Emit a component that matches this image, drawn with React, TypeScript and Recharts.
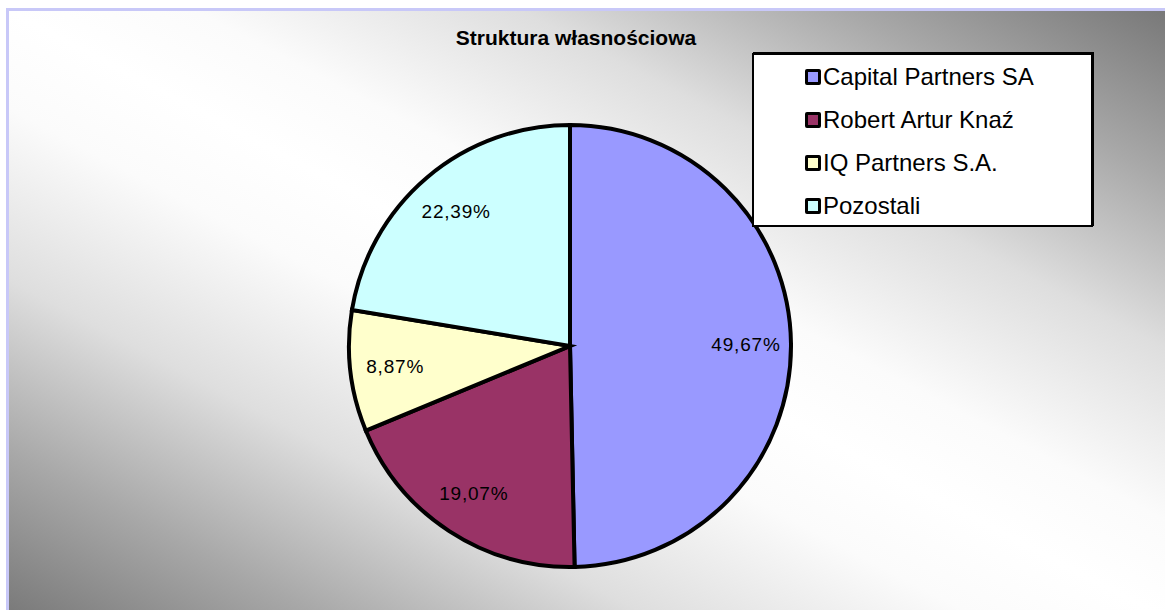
import React from 'react';
import { PieChart, Pie, Cell, Legend } from 'recharts';

const owners = ['Capital Partners SA', 'Robert Artur Knaź', 'IQ Partners S.A.', 'Pozostali'];
const shares = [49.67, 19.07, 8.87, 22.39];
const COLORS = ['#9999FF', '#993366', '#FFFFCC', '#CCFFFF'];

const data = owners.map((name, i) => ({ name, value: shares[i] }));

const FONT = '"Liberation Sans", Arial, sans-serif';
const RAD = Math.PI / 180;

const fmt = (v: number) => v.toFixed(2).replace('.', ',') + '%';

const renderLabel = (props: any) => {
  const { cx, cy, midAngle, value } = props;
  const r = 176;
  const x = cx + r * Math.cos(-midAngle * RAD);
  const y = cy + r * Math.sin(-midAngle * RAD);
  return (
    <text
      x={x}
      y={y}
      textAnchor="middle"
      dominantBaseline="central"
      fontFamily={FONT}
      fontSize={19}
      letterSpacing={0.8}
      fill="#000"
    >
      {fmt(value)}
    </text>
  );
};

const LegendBox = (props: any) => {
  // keep the order of the data, not the alphabetical one
  const payload = [...(props.payload || [])].sort(
    (a: any, b: any) => owners.indexOf(a.value) - owners.indexOf(b.value)
  );
  return (
    <div
      style={{
        width: 337,
        height: 170,
        background: '#fff',
        border: '2px solid #000',
        boxShadow: '1px -1px 0 #000',
        boxSizing: 'content-box',
        fontFamily: FONT,
      }}
    >
      {payload.map((entry: any) => (
        <div
          key={entry.value}
          style={{ display: 'flex', alignItems: 'center', height: 43, paddingLeft: 51 }}
        >
          <span
            style={{
              display: 'inline-block',
              width: 10,
              height: 10,
              border: '3px solid #000',
              borderRadius: 2,
              background: COLORS[owners.indexOf(entry.value)] || entry.color,
              marginRight: 2,
            }}
          />
          <span style={{ fontSize: 24, color: '#000' }}>{entry.value}</span>
        </div>
      ))}
    </div>
  );
};

export default function App() {
  return (
    <div style={{ position: 'absolute', left: 0, top: 0, width: 1165, height: 610, overflow: 'hidden', background: '#fff' }}>
      <div
        style={{
          position: 'absolute',
          left: 6,
          top: 8,
          width: 1166,
          height: 612,
          borderLeft: '3px solid #c8c8f8',
          borderTop: '3px solid #c8c8f8',
          background:
            'linear-gradient(to bottom left, #777777 0%, #a8a8a8 14%, #dedede 28%, #fbfbfb 42%, #ffffff 50%, #fbfbfb 58%, #dedede 72%, #a8a8a8 86%, #777777 100%)',
        }}
      />
      <div
        style={{
          position: 'absolute',
          left: 376,
          top: 26,
          width: 400,
          textAlign: 'center',
          fontFamily: FONT,
          fontWeight: 'bold',
          fontSize: 21,
          color: '#000',
        }}
      >
        Struktura własnościowa
      </div>
      <div style={{ position: 'absolute', left: 0, top: 0 }}>
        <PieChart width={1165} height={610}>
          <Pie
            data={data}
            dataKey="value"
            nameKey="name"
            cx={565}
            cy={341}
            outerRadius={221}
            startAngle={90}
            endAngle={-270}
            stroke="#000"
            strokeWidth={4}
            label={renderLabel}
            labelLine={false}
            isAnimationActive={false}
          >
            {data.map((d, i) => (
              <Cell key={d.name} fill={COLORS[i]} />
            ))}
          </Pie>
          <Legend
            content={<LegendBox />}
            wrapperStyle={{ position: 'absolute', left: 752, top: 53, width: 341, height: 174 }}
          />
        </PieChart>
      </div>
    </div>
  );
}
